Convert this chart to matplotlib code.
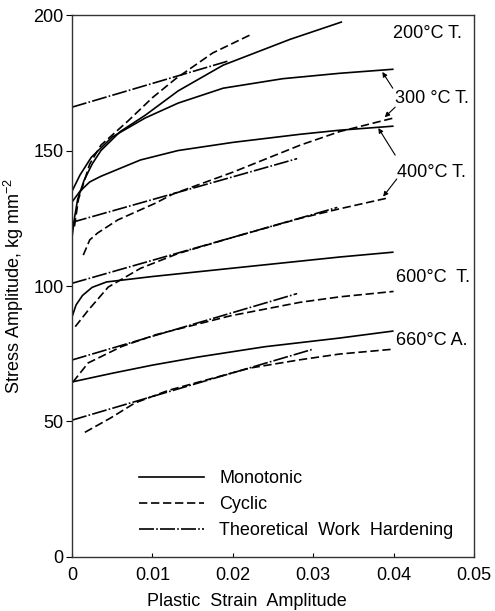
import matplotlib
matplotlib.use('Agg')
import matplotlib.pyplot as plt
from matplotlib.lines import Line2D

plt.rcParams['font.family'] = ['Liberation Sans', 'DejaVu Sans']
plt.rcParams['mathtext.fontset'] = 'custom'
plt.rcParams['mathtext.rm'] = 'Liberation Sans'

# -------------------------------------  Data  --------------------------------------------------------------
# 200 C tempered
mono_200_x = [0, 0.0003, 0.0007, 0.0015, 0.0025, 0.0036, 0.006, 0.0091, 0.0132, 0.0188, 0.0271, 0.0336]
mono_200_y = [118, 125, 132, 139, 145, 150, 157, 163, 172, 181.5, 191, 197.5]
cyc_200_x = [0.0003, 0.0008, 0.0022, 0.0036, 0.007, 0.010, 0.0129, 0.0175, 0.0224]
cyc_200_y = [122, 132, 145, 152, 161, 169.5, 176.5, 186, 193]
theo_200_x = [0, 0.0194]
theo_200_y = [166, 183]

# 300 C tempered
mono_300_x = [0, 0.001, 0.0024, 0.005, 0.0091, 0.0132, 0.0188, 0.0262, 0.0333, 0.040]
mono_300_y = [135, 141, 147.5, 155, 162, 167.5, 173, 176.5, 178.5, 180]
cyc_300_x = [0.0014, 0.0022, 0.0032, 0.0057, 0.0104, 0.0126, 0.020, 0.0284, 0.0333, 0.040]
cyc_300_y = [111.4, 117, 119.6, 124.4, 130.6, 134, 142, 152, 157, 162]
theo_300_x = [0, 0.028]
theo_300_y = [123.5, 147]

# 400 C tempered
mono_400_x = [0, 0.001, 0.0022, 0.0036, 0.0085, 0.0132, 0.020, 0.0284, 0.0333, 0.040]
mono_400_y = [131, 135, 138.4, 140.5, 146.5, 150, 153, 156, 157.5, 159]
cyc_400_x = [0.0004, 0.002, 0.0045, 0.0085, 0.0132, 0.0197, 0.0284, 0.0333, 0.0393]
cyc_400_y = [85, 91, 99.6, 106.5, 112, 117.7, 125, 128.5, 132.5]
theo_400_x = [0, 0.033]
theo_400_y = [101, 129]

# 600 C tempered
mono_600_x = [0, 0.0005, 0.0013, 0.0025, 0.0043, 0.010, 0.0197, 0.0333, 0.040]
mono_600_y = [88.6, 93, 96.5, 99.5, 101.5, 103.5, 106.5, 110.7, 112.5]
cyc_600_x = [0.0001, 0.002, 0.0062, 0.0104, 0.0197, 0.0284, 0.0333, 0.040]
cyc_600_y = [64.5, 71.6, 77.7, 82, 89, 94, 96, 98]
theo_600_x = [0, 0.028]
theo_600_y = [72.7, 97.2]

# 660 C annealed
mono_660_x = [0, 0.005, 0.010, 0.0157, 0.024, 0.0333, 0.040]
mono_660_y = [64.6, 67.8, 70.8, 73.8, 77.6, 80.8, 83.4]
cyc_660_x = [0.0016, 0.0048, 0.0078, 0.012, 0.0221, 0.0284, 0.0333, 0.040]
cyc_660_y = [46, 51.3, 56.8, 61.5, 69.7, 72.8, 74.9, 76.7]
theo_660_x = [0, 0.030]
theo_660_y = [50.5, 76.7]

x_ticks = [0, 0.01, 0.02, 0.03, 0.04, 0.05]
x_tick_labels = ['0', '0.01', '0.02', '0.03', '0.04', '0.05']
y_ticks = [0, 50, 100, 150, 200]

# -------------------------------------  Styles  ------------------------------------------
lw = 1.2
solid = '-'
dashed = (0, (5, 2.2))
dashdot = (0, (9, 1.3, 1, 1.3))

fig = plt.figure(figsize=(4.95, 6.11), dpi=100)
ax = fig.add_axes([0.1455, 0.0884, 0.812, 0.887])

curves = [
    (mono_200_x, mono_200_y, solid), (cyc_200_x, cyc_200_y, dashed), (theo_200_x, theo_200_y, dashdot),
    (mono_300_x, mono_300_y, solid), (cyc_300_x, cyc_300_y, dashed), (theo_300_x, theo_300_y, dashdot),
    (mono_400_x, mono_400_y, solid), (cyc_400_x, cyc_400_y, dashed), (theo_400_x, theo_400_y, dashdot),
    (mono_600_x, mono_600_y, solid), (cyc_600_x, cyc_600_y, dashed), (theo_600_x, theo_600_y, dashdot),
    (mono_660_x, mono_660_y, solid), (cyc_660_x, cyc_660_y, dashed), (theo_660_x, theo_660_y, dashdot),
]
for xs, ys, ls in curves:
    ax.plot(xs, ys, color='black', lw=lw, linestyle=ls, solid_capstyle='butt', dash_capstyle='butt')

# -------------------------------------  Labels and arrows  ------------------------------------------
fs = 13
ax.text(0.0399, 191.5, '200°C T.', fontsize=fs, ha='left', va='baseline')
ax.text(0.0402, 167.5, '300 °C T.', fontsize=fs, ha='left', va='baseline')
ax.text(0.0404, 140.2, '400°C T.', fontsize=fs, ha='left', va='baseline')
ax.text(0.0403, 101.5, '600°C  T.', fontsize=fs, ha='left', va='baseline')
ax.text(0.0403, 78.2, '660°C A.', fontsize=fs, ha='left', va='baseline')

arrows = [
    ((0.0399, 173.0), (0.0386, 179.0)),
    ((0.0402, 166.0), (0.0389, 162.3)),
    ((0.0402, 148.3), (0.0381, 158.3)),
    ((0.0404, 139.5), (0.0387, 133.0)),
]
for tail, tip in arrows:
    ax.annotate('', xy=tip, xytext=tail,
                arrowprops=dict(arrowstyle='-|>', lw=0.8, color='black',
                                mutation_scale=7, shrinkA=0, shrinkB=0))

# -------------------------------------  Axes  ------------------------------------------
ax.set_xlim(0, 0.05)
ax.set_ylim(0, 200)
ax.set_xticks(x_ticks)
ax.set_xticklabels(x_tick_labels)
ax.set_yticks(y_ticks)
ax.tick_params(axis='x', direction='in', length=3, pad=7, labelsize=fs)
ax.tick_params(axis='y', direction='out', length=4, pad=2, labelsize=fs)
for sp in ax.spines.values():
    sp.set_linewidth(1.0)
    sp.set_color('#333333')

ax.set_xlabel('Plastic  Strain  Amplitude', fontsize=fs)
ax.xaxis.set_label_coords(0.435, -0.066)
ax.set_ylabel('Stress Amplitude, kg mm$^{-2}$', fontsize=fs)
ax.yaxis.set_label_coords(-0.114, 0.5)

handles = [Line2D([], [], color='black', lw=lw, linestyle=solid),
           Line2D([], [], color='black', lw=lw, linestyle=dashed),
           Line2D([], [], color='black', lw=lw, linestyle=dashdot)]
ax.legend(handles, ['Monotonic', 'Cyclic', 'Theoretical  Work  Hardening'],
          loc='upper left', bbox_to_anchor=(0.167, 0.16), frameon=False,
          fontsize=fs, handlelength=3.6, handletextpad=0.85, labelspacing=0.5,
          borderpad=0, borderaxespad=0)

fig.savefig('out.png', dpi=100)
